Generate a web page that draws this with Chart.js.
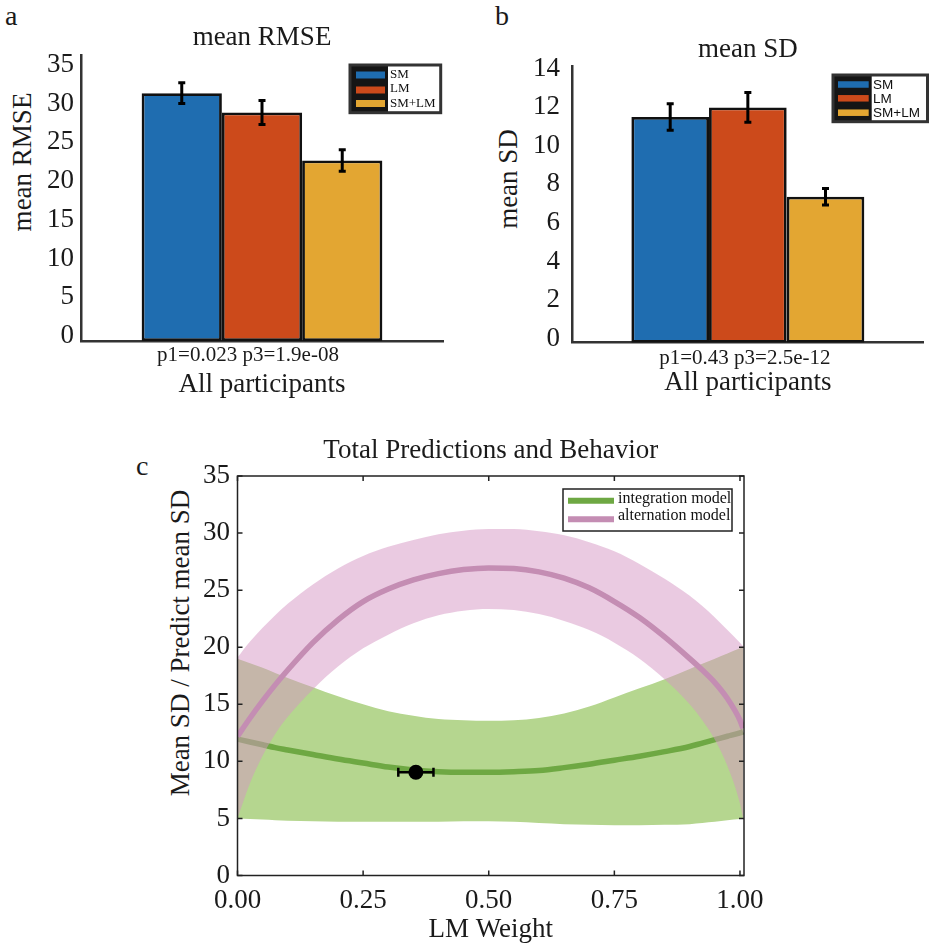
<!DOCTYPE html>
<html>
<head>
<meta charset="utf-8">
<title>Model comparison</title>
<style>
html, body { margin: 0; padding: 0; background: #fff; overflow: hidden; }
body { width: 929px; height: 944px; position: relative; font-family: 'Liberation Serif', 'Times New Roman', serif; color: #1a1a1a; }
canvas { position: absolute; }
.letter { position: absolute; font-size: 28px; line-height: 28px; }
.ytitle { position: absolute; transform: translate(-50%, -50%) rotate(-90deg); font-size: 27px; line-height: 1; white-space: nowrap; color: #1a1a1a; }
</style>
</head>
<body>
<div class="letter" style="left:5px;top:2px">a</div>
<div class="letter" style="left:495px;top:2px">b</div>
<div class="letter" style="left:136px;top:452px">c</div>
<div class="ytitle" style="left:22px;top:162px">mean RMSE</div>
<div class="ytitle" style="left:508px;top:179px">mean SD</div>
<div class="ytitle" style="left:180px;top:643px">Mean SD / Predict mean SD</div>

<canvas id="chartA" width="460" height="410" style="left:0;top:0"></canvas>
<canvas id="chartB" width="469" height="410" style="left:460px;top:0"></canvas>
<canvas id="chartC" width="929" height="524" style="left:0;top:420px"></canvas>

<script src="https://cdn.jsdelivr.net/npm/chart.js"></script>
<script>
// ---- data ----
const models = ['SM', 'LM', 'SM+LM'];

const rmseMean = [32.0, 29.5, 23.3];
const rmseErr = [1.35, 1.55, 1.38];
const rmseLabel = 'p1=0.023 p3=1.9e-08';

const sdMean = [11.7, 12.2, 7.57];
const sdErr = [0.69, 0.77, 0.43];
const sdLabel = 'p1=0.43 p3=2.5e-12';

const lmWeight = [0, 0.025, 0.05, 0.075, 0.1, 0.15, 0.2, 0.25, 0.3, 0.35, 0.4, 0.45, 0.5,
                  0.55, 0.6, 0.65, 0.7, 0.75, 0.8, 0.85, 0.9, 0.925, 0.95, 0.975, 1.0, 1.006];
const integMean  = [11.95, 11.7, 11.45, 11.2, 11.0, 10.6, 10.2, 9.85, 9.5, 9.25, 9.1, 9.05, 9.05,
                    9.1, 9.2, 9.45, 9.75, 10.1, 10.45, 10.85, 11.3, 11.6, 11.9, 12.2, 12.5, 12.6];
const integUpper = [19.0, 18.6, 18.2, 17.75, 17.3, 16.5, 15.7, 15.0, 14.4, 14.0, 13.7, 13.6, 13.55,
                    13.6, 13.8, 14.2, 14.8, 15.6, 16.4, 17.2, 18.1, 18.55, 19.0, 19.45, 19.9, 20.0];
const integLower = [5.0, 4.95, 4.9, 4.85, 4.8, 4.75, 4.7, 4.7, 4.7, 4.7, 4.7, 4.75, 4.75,
                    4.7, 4.6, 4.5, 4.45, 4.4, 4.4, 4.45, 4.5, 4.6, 4.7, 4.85, 4.95, 5.0];
const altMean  = [12.2, 13.8, 15.3, 16.7, 18.0, 20.4, 22.4, 24.0, 25.1, 25.9, 26.45, 26.8, 26.95,
                  26.9, 26.6, 26.05, 25.2, 24.0, 22.6, 20.9, 19.0, 18.0, 16.9, 15.5, 13.6, 12.9];
const altUpper = [19.1, 20.5, 21.7, 22.8, 23.8, 25.5, 26.9, 28.0, 28.8, 29.4, 29.9, 30.2, 30.35,
                  30.35, 30.15, 29.8, 29.2, 28.4, 27.3, 26.0, 24.5, 23.6, 22.6, 21.5, 20.4, 20.1];
const altLower = [5.0, 8.1, 10.5, 12.4, 13.9, 16.3, 18.3, 19.9, 21.1, 22.1, 22.8, 23.2, 23.35,
                  23.25, 22.9, 22.3, 21.5, 20.4, 19.0, 17.2, 15.0, 13.6, 11.9, 9.6, 6.3, 5.0];

const behaviorX = [0.355];
const behaviorY = [9.05];
const behaviorXErr = [0.035];

// ---- styling ----
const serif = "'Liberation Serif', 'Times New Roman', serif";
const sans = "'Liberation Sans', Arial, sans-serif";
const barColors = ['#1f6db0', '#cc4a1b', '#e3a632'];
const ink = '#1a1a1a';

const errorBars = {
  id: 'errorBars',
  afterDatasetsDraw(chart, args, o) {
    const ctx = chart.ctx;
    const xs = chart.scales.x, ys = chart.scales.y;
    ctx.save();
    ctx.strokeStyle = '#000';
    ctx.lineWidth = o.width || 3;
    chart.data.datasets.forEach((ds, i) => {
      const meta = chart.getDatasetMeta(i);
      meta.data.forEach((el, j) => {
        ctx.beginPath();
        if (ds.errors) {
          const v = ds.data[j], e = ds.errors[j];
          const t = ys.getPixelForValue(v + e), b = ys.getPixelForValue(v - e);
          ctx.moveTo(el.x, t); ctx.lineTo(el.x, b);
          ctx.moveTo(el.x - o.cap, t); ctx.lineTo(el.x + o.cap, t);
          ctx.moveTo(el.x - o.cap, b); ctx.lineTo(el.x + o.cap, b);
        } else if (ds.xErrors) {
          const p = ds.data[j], e = ds.xErrors[j];
          const l = xs.getPixelForValue(p.x - e), r = xs.getPixelForValue(p.x + e);
          ctx.moveTo(l, el.y); ctx.lineTo(r, el.y);
          ctx.moveTo(l, el.y - o.cap); ctx.lineTo(l, el.y + o.cap);
          ctx.moveTo(r, el.y - o.cap); ctx.lineTo(r, el.y + o.cap);
        }
        ctx.stroke();
      });
    });
    ctx.restore();
  }
};

const boxLegend = {
  id: 'boxLegend',
  afterDraw(chart, args, o) {
    if (!o.items) return;
    const ctx = chart.ctx;
    ctx.save();
    ctx.fillStyle = '#fff';
    ctx.fillRect(o.x, o.y, o.w, o.h);
    if (o.swatchBg) {
      ctx.fillStyle = o.swatchBg;
      ctx.fillRect(o.x, o.y, o.swatchW, o.h);
    }
    o.items.forEach((idx, i) => {
      const ds = chart.data.datasets[idx];
      const cy = o.rows[i];
      if (o.kind === 'bar') {
        ctx.fillStyle = ds.backgroundColor;
        ctx.fillRect(o.x + o.inset, cy - o.swH / 2, o.swatchW - o.inset - 3, o.swH);
      } else {
        ctx.strokeStyle = ds.borderColor;
        ctx.lineWidth = o.swH;
        ctx.beginPath();
        ctx.moveTo(o.x + o.inset, cy);
        ctx.lineTo(o.x + o.inset + o.swatchW, cy);
        ctx.stroke();
      }
      ctx.fillStyle = '#111';
      ctx.font = o.font;
      ctx.textBaseline = 'middle';
      ctx.fillText(ds.label, o.textX, o.textRows ? o.textRows[i] : cy);
    });
    ctx.strokeStyle = o.border;
    ctx.lineWidth = o.borderW;
    ctx.strokeRect(o.x, o.y, o.w, o.h);
    ctx.restore();
  }
};

const frameTicks = {
  id: 'frameTicks',
  afterDatasetsDraw(chart, args, o) {
    if (!o.len) return;
    const {ctx, chartArea: a, scales: {x, y}} = chart;
    ctx.save();
    ctx.strokeStyle = '#222';
    ctx.lineWidth = 1.5;
    ctx.strokeRect(a.left, a.top, a.right - a.left, a.bottom - a.top);
    ctx.beginPath();
    x.ticks.forEach(t => {
      const px = x.getPixelForValue(t.value);
      ctx.moveTo(px, a.bottom); ctx.lineTo(px, a.bottom - o.len);
      ctx.moveTo(px, a.top); ctx.lineTo(px, a.top + o.len);
    });
    y.ticks.forEach(t => {
      const py = y.getPixelForValue(t.value);
      ctx.moveTo(a.left, py); ctx.lineTo(a.left + o.len, py);
      ctx.moveTo(a.right, py); ctx.lineTo(a.right - o.len, py);
    });
    ctx.stroke();
    ctx.restore();
  }
};

function barChart(id, cfg) {
  return new Chart(document.getElementById(id), {
    type: 'bar',
    data: {
      labels: [cfg.pLabel],
      datasets: models.map((m, i) => ({
        label: m,
        data: [cfg.means[i]],
        errors: [cfg.errs[i]],
        backgroundColor: barColors[i],
        borderColor: '#111',
        borderWidth: 2.8,
        borderSkipped: false,
        barPercentage: 1,
        categoryPercentage: 0.665
      }))
    },
    options: {
      responsive: false,
      animation: false,
      layout: { padding: { right: cfg.padRight } },
      plugins: {
        legend: { display: false },
        tooltip: { enabled: false },
        title: {
          display: true, text: cfg.title, fullSize: false, color: ink,
          font: { family: serif, size: 27, weight: 'normal' },
          padding: { top: cfg.titleTop, bottom: cfg.titleBottom }
        },
        errorBars: { cap: 3.5, width: 3 },
        boxLegend: cfg.legend
      },
      scales: {
        x: {
          grid: { display: false, drawTicks: false },
          border: { color: '#333', width: 2.5 },
          ticks: { color: ink, font: { family: serif, size: 21 }, padding: cfg.xPad, labelOffset: cfg.xOffset },
          title: { display: true, text: 'All participants', color: ink,
                   font: { family: serif, size: 27 }, padding: { top: 0, bottom: cfg.xTitlePad } },
          afterFit: s => { s.height = 410 - cfg.bottom; }
        },
        y: {
          min: 0, max: cfg.yMax,
          grid: { display: false, drawTicks: false },
          border: { color: '#333', width: 2.5 },
          ticks: { stepSize: cfg.step, includeBounds: false, color: ink,
                   font: { family: serif, size: 27 }, padding: cfg.yPad, labelOffset: cfg.yOffset },
          afterFit: s => { s.width = cfg.left; }
        }
      }
    },
    plugins: [errorBars, boxLegend]
  });
}

barChart('chartA', {
  means: rmseMean, errs: rmseErr, pLabel: rmseLabel, title: 'mean RMSE',
  yMax: 36.9, step: 5, left: 81, bottom: 341, padRight: 17,
  titleTop: 21.8, titleBottom: 1, xPad: 1.4, xOffset: -14, xTitlePad: 8.8, yPad: 7, yOffset: -5,
  legend: { items: [0, 1, 2], kind: 'bar', x: 350, y: 65, w: 90.7, h: 47.7, swatchW: 38,
            swatchBg: '#151515', inset: 6, swH: 7, rows: [75, 90, 103.5], textRows: [74.5, 89, 104],
            textX: 390, font: '13px ' + serif, border: '#333', borderW: 3 }
});

barChart('chartB', {
  means: sdMean, errs: sdErr, pLabel: sdLabel, title: 'mean SD',
  yMax: 14.31, step: 2, left: 112.7, bottom: 342.7, padRight: 6,
  titleTop: 33.8, titleBottom: 0.5, xPad: 3, xOffset: -3, xTitlePad: 10.8, yPad: 12.7, yOffset: -4,
  legend: { items: [0, 1, 2], kind: 'bar', x: 373, y: 75, w: 94.5, h: 46.7, swatchW: 38.7,
            swatchBg: '#151515', inset: 5, swH: 6.5, rows: [84.5, 98.3, 112.7], textRows: [85, 99, 113.3],
            textX: 413, font: '13.5px ' + sans, border: '#333', borderW: 3 }
});

const pts = ys => lmWeight.map((x, i) => ({ x: x, y: ys[i] }));
const bandEdge = { borderWidth: 0, borderColor: 'transparent', pointRadius: 0, cubicInterpolationMode: 'monotone' };

new Chart(document.getElementById('chartC'), {
  type: 'line',
  data: {
    datasets: [
      { label: 'behavior', data: behaviorX.map((x, i) => ({ x: x, y: behaviorY[i] })), xErrors: behaviorXErr,
        showLine: false, pointRadius: 7.5, pointBackgroundColor: '#000', pointBorderWidth: 0, order: 0 },
      { label: 'alternation model', data: pts(altMean), borderColor: '#c48db3', borderWidth: 5.5,
        pointRadius: 0, cubicInterpolationMode: 'monotone', fill: false, order: 1 },
      Object.assign({ label: 'alternation upper', data: pts(altUpper), fill: 3,
        backgroundColor: 'rgba(214,150,196,0.5)', order: 2 }, bandEdge),
      Object.assign({ label: 'alternation lower', data: pts(altLower), fill: false, order: 2 }, bandEdge),
      { label: 'integration model', data: pts(integMean), borderColor: '#6ea843', borderWidth: 5.5,
        pointRadius: 0, cubicInterpolationMode: 'monotone', fill: false, order: 3 },
      Object.assign({ label: 'integration upper', data: pts(integUpper), fill: 6,
        backgroundColor: '#b5d68f', order: 4 }, bandEdge),
      Object.assign({ label: 'integration lower', data: pts(integLower), fill: false, order: 4 }, bandEdge)
    ]
  },
  options: {
    responsive: false,
    animation: false,
    layout: { padding: { right: 185 } },
    plugins: {
      legend: { display: false },
      tooltip: { enabled: false },
      title: {
        display: true, text: 'Total Predictions and Behavior', fullSize: false, color: ink,
        font: { family: serif, size: 27, weight: 'normal' },
        padding: { top: 14.5, bottom: 9.1 }
      },
      errorBars: { cap: 4.5, width: 2.5 },
      frameTicks: { len: 5 },
      boxLegend: { items: [4, 1], kind: 'line', x: 563, y: 69, w: 169, h: 42, swatchW: 46, inset: 5,
                   swH: 6, rows: [80.7, 99.3], textRows: [79, 95.5], textX: 618,
                   font: '16px ' + serif, border: '#222', borderW: 1.5 }
    },
    scales: {
      x: {
        type: 'linear', min: 0, max: 1.008,
        grid: { display: false, drawTicks: false },
        border: { display: false },
        ticks: { stepSize: 0.25, includeBounds: false, color: ink, padding: 9,
                 font: { family: serif, size: 27 }, callback: v => v.toFixed(2) },
        title: { display: true, text: 'LM Weight', color: ink,
                 font: { family: serif, size: 27, lineHeight: 1 }, padding: { top: 0, bottom: 0.5 } },
        afterFit: s => { s.height = 68.5; }
      },
      y: {
        min: 0, max: 35,
        grid: { display: false, drawTicks: false },
        border: { display: false },
        ticks: { stepSize: 5, color: ink, padding: 7.5, font: { family: serif, size: 27 } },
        afterFit: s => { s.width = 237.5; }
      }
    }
  },
  plugins: [errorBars, frameTicks, boxLegend]
});
</script>
</body>
</html>
